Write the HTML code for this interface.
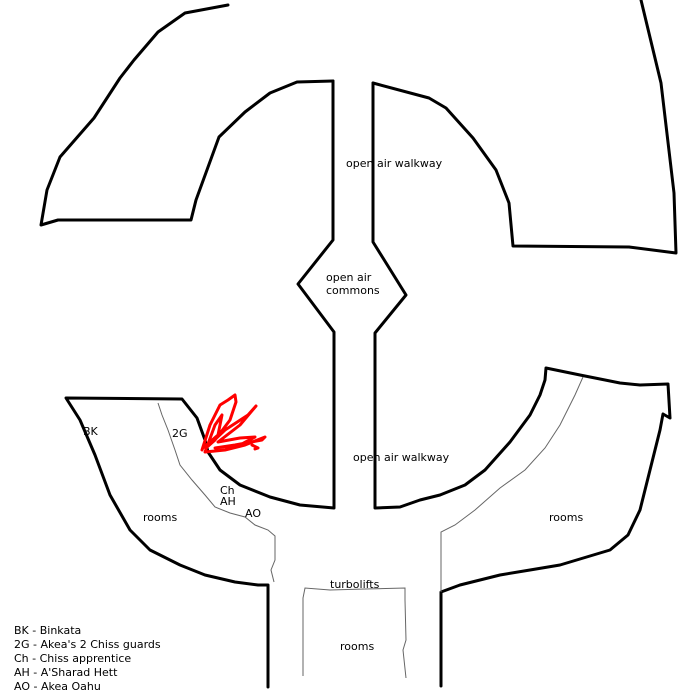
<!DOCTYPE html>
<html><head><style>
html,body{margin:0;padding:0;background:#fff;width:700px;height:700px;overflow:hidden}
svg{display:block}
text{font-family:"DejaVu Sans","Liberation Sans",sans-serif;font-size:11px;fill:#000}
</style></head><body>
<svg width="700" height="700" viewBox="0 0 700 700" xmlns="http://www.w3.org/2000/svg">
<g fill="none" stroke="#000" stroke-width="3" stroke-linejoin="round" stroke-linecap="round">
<!-- top-left block -->
<path d="M228,5 L185,13 L158,32 L134,60 L120,78 L94,118 L60,157 L47,190 L41,225 L58,220 L191,220 L196,200 L219,137 L245,112 L270,93 L297,82 L333,81"/>
<!-- central walkway left -->
<path d="M333,81 L333,240 L298,284 L334,332 L334,508 L300,505 L270,497 L240,485 L220,470 L208,452"/>
<!-- central walkway right -->
<path d="M373,83 L373,242 L406,295 L375,333 L375,508 L400,507 L420,500 L440,495 L465,485 L485,470 L510,442 L530,415 L540,395 L545,380 L546,368 L580,375 L620,383 L640,385 L668,384 L670,418 L663,414 L660,430 L650,470 L640,510 L628,535 L610,550 L590,556 L560,565 L530,570 L500,575 L480,580 L460,585 L441,592 L441,686"/>
<!-- top-right block -->
<path d="M373,83 L429,98 L446,108 L473,138 L496,170 L509,203 L513,246 L629,247 L676,253 L674,193 L661,83 L641,0"/>
<!-- lower-left block -->
<path d="M208,452 L205,440 L197,418 L182,399 L66,398 L80,420 L95,455 L110,495 L130,530 L150,550 L180,565 L205,575 L235,582 L258,585 L268,585 L268,687"/>
</g>
<g fill="none" stroke="#666" stroke-width="1">
<path d="M158,403 L162,415 L168,430 L175,450 L180,465 L192,480 L205,495 L215,507 L230,513 L245,517 L255,525 L268,530 L275,536 L275,560 L271,570 L274,582"/>
<path d="M583,377 L575,395 L560,425 L545,448 L525,470 L500,488 L475,510 L455,525 L441,532 L441,592"/>
<path d="M303,676 L303,598 L305,588 L330,590 L365,589 L405,588 L405,600 L406,640 L403,650 L406,678"/>
</g>
<!-- red scribble -->
<g fill="none" stroke="#f00" stroke-width="3" stroke-linecap="round" stroke-linejoin="round">
<path d="M202,450 L210,425 L220,405 L228,400 L235,395 L236,402 L230,420 L215,440 L206,448 L225,430 L248,415 L256,406 L240,425 L218,442 L240,438 L255,437 L240,445 L215,448 L235,445 L262,440 L265,437 L245,445 L225,450 L205,452 L215,425 L222,415 L218,435 L203,448"/>
<path d="M252,445 L258,448 L255,449"/>
</g>
<text x="346" y="167">open air walkway</text>
<text x="326" y="281">open air</text>
<text x="326" y="294">commons</text>
<text x="353" y="461">open air walkway</text>
<text x="83" y="435">BK</text>
<text x="172" y="437">2G</text>
<text x="220" y="494">Ch</text>
<text x="220" y="505">AH</text>
<text x="245" y="517">AO</text>
<text x="143" y="521">rooms</text>
<text x="549" y="521">rooms</text>
<text x="330" y="588">turbolifts</text>
<text x="340" y="650">rooms</text>
<text x="14" y="634">BK - Binkata</text>
<text x="14" y="648">2G - Akea's 2 Chiss guards</text>
<text x="14" y="662">Ch - Chiss apprentice</text>
<text x="14" y="676">AH - A'Sharad Hett</text>
<text x="14" y="690">AO - Akea Oahu</text>
</svg>
</body></html>
